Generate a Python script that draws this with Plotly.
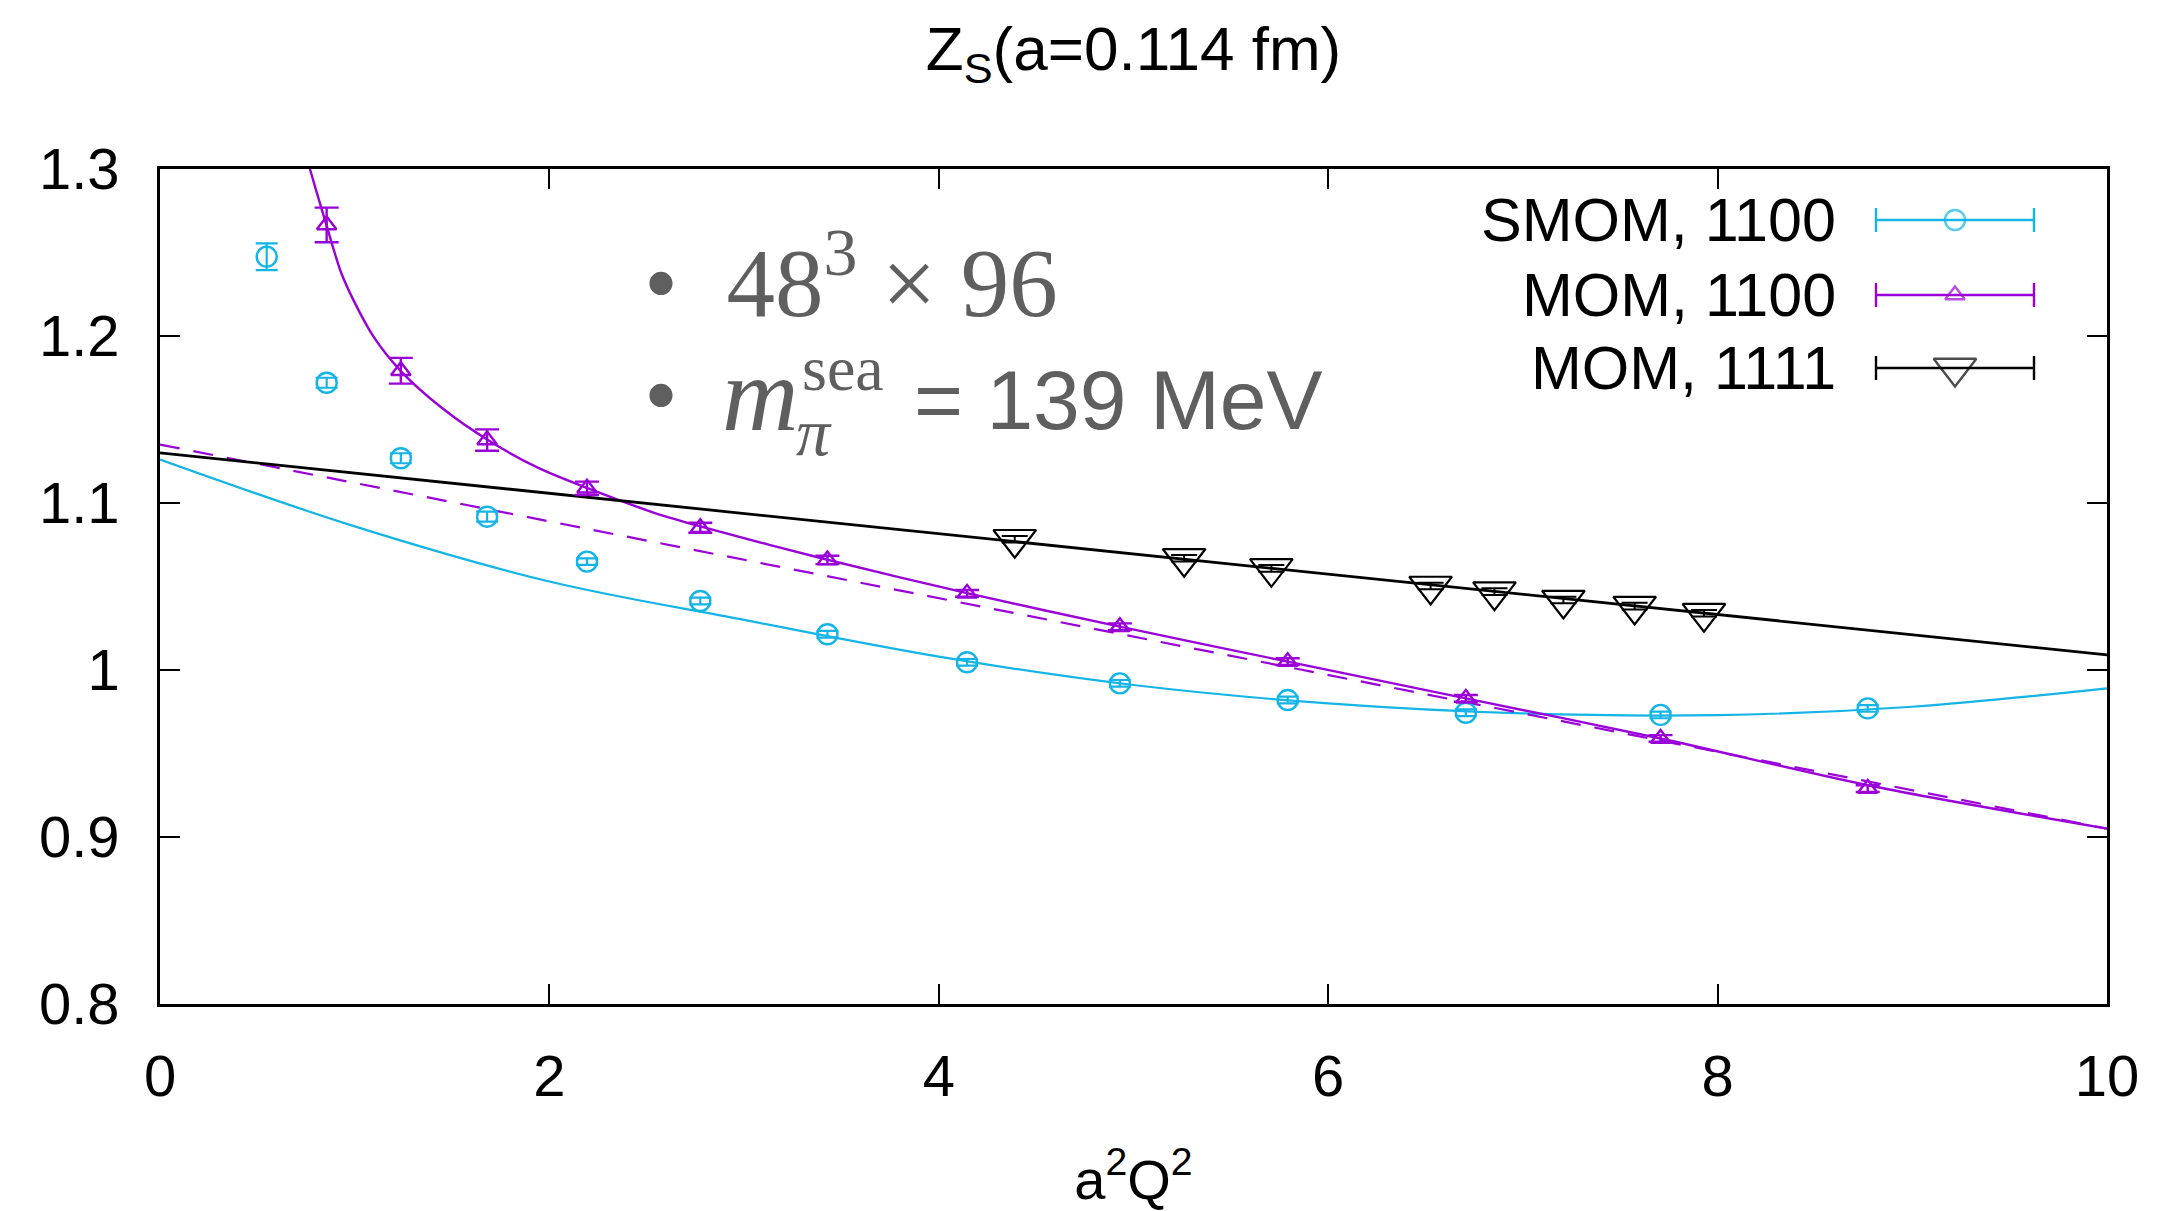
import plotly.graph_objects as go

# ---------------- data ----------------
x_smom = [0.548, 0.856, 1.237, 1.680, 2.193, 2.775, 3.428, 4.145, 4.930, 5.792, 6.707, 7.707, 8.771]
z_smom = [1.2475, 1.172, 1.1268, 1.0918, 1.0649, 1.0413, 1.0214, 1.0046, 0.992, 0.982, 0.9744, 0.9731, 0.977]
e_smom = [0.008, 0.003, 0.003, 0.003, 0.002, 0.002, 0.002, 0.002, 0.002, 0.002, 0.002, 0.002, 0.002]

x_mom = [0.856, 1.237, 1.680, 2.193, 2.775, 3.428, 4.145, 4.930, 5.792, 6.707, 7.707, 8.771]
z_mom = [1.2665, 1.1792, 1.1377, 1.1088, 1.0852, 1.0659, 1.0459, 1.0259, 1.005, 0.983, 0.959, 0.929]
e_mom = [0.0104, 0.0077, 0.0064, 0.004, 0.003, 0.0025, 0.002, 0.002, 0.002, 0.002, 0.002, 0.002]

x_mom11 = [4.39, 5.26, 5.708, 6.526, 6.854, 7.208, 7.574, 7.93]
z_mom11 = [1.0783, 1.0669, 1.0609, 1.0503, 1.0469, 1.0419, 1.0383, 1.034]
e_mom11 = [0.002, 0.002, 0.002, 0.002, 0.002, 0.002, 0.002, 0.002]

# fit curves
fit_smom_x = [0, 1, 2, 3, 4, 5, 6, 7, 8, 9, 10]
fit_smom_y = [1.126, 1.086, 1.053, 1.030, 1.008, 0.991, 0.980, 0.974, 0.973, 0.978, 0.989]

fit_mom_x = [0.77, 0.80, 0.856, 0.93, 1.0, 1.1, 1.237, 1.447, 1.68, 1.943, 2.193, 2.542,
             2.775, 3.428, 4.145, 4.93, 5.792, 6.707, 7.707, 8.771, 10]
fit_mom_y = [1.300, 1.288, 1.266, 1.238, 1.220, 1.199, 1.179, 1.157, 1.138, 1.121, 1.109, 1.094,
             1.086, 1.066, 1.046, 1.026, 1.005, 0.983, 0.959, 0.931, 0.905]

fit_mom_lin_x = [0, 5, 10]
fit_mom_lin_y = [1.135, 1.020, 0.905]

fit_mom11_x = [0, 10]
fit_mom11_y = [1.130, 1.009]

series_names = ["SMOM, 1100", "MOM, 1100", "MOM, 1111"]
x_ticks = [0, 2, 4, 6, 8, 10]
y_ticks = [0.8, 0.9, 1.0, 1.1, 1.2, 1.3]
y_ticktext = ["0.8", "0.9", "1", "1.1", "1.2", "1.3"]

# ---------------- styling ----------------
W, H = 2157, 1211
L, R, T, B = 160, 2107, 169, 1004
CYAN = "#14B4E6"
PURPLE = "#9A00D8"
BLACK = "#000000"
GREY = "#5f5f5f"
SANS = "Liberation Sans, Arial, Helvetica, sans-serif"
SERIF = "Liberation Serif, Times New Roman, serif"


def px(xp):
    return (xp - L) / (R - L)


def py(yp):
    return (B - yp) / (B - T)


fig = go.Figure()

# fit curves
fig.add_trace(go.Scatter(x=fit_smom_x, y=fit_smom_y, mode="lines",
                         line=dict(color=CYAN, width=2.2, shape="spline", smoothing=1.0)))
fig.add_trace(go.Scatter(x=fit_mom_lin_x, y=fit_mom_lin_y, mode="lines",
                         line=dict(color=PURPLE, width=2.2, dash="20px,14px")))
fig.add_trace(go.Scatter(x=fit_mom_x, y=fit_mom_y, mode="lines",
                         line=dict(color=PURPLE, width=2.4, shape="spline", smoothing=0.8)))
fig.add_trace(go.Scatter(x=fit_mom11_x, y=fit_mom11_y, mode="lines",
                         line=dict(color=BLACK, width=2.8)))

# data points
fig.add_trace(go.Scatter(x=x_smom, y=z_smom, mode="markers",
                         error_y=dict(type="data", array=e_smom, color=CYAN, thickness=2.2, width=11),
                         marker=dict(symbol="circle-open", size=20, color=CYAN, line=dict(width=2.4))))
fig.add_trace(go.Scatter(x=x_mom, y=z_mom, mode="markers",
                         error_y=dict(type="data", array=e_mom, color=PURPLE, thickness=2.4, width=12),
                         marker=dict(symbol="triangle-up-open", size=17, color=PURPLE, line=dict(width=2.4))))
fig.add_trace(go.Scatter(x=x_mom11, y=z_mom11, mode="markers",
                         error_y=dict(type="data", array=e_mom11, color=BLACK, thickness=2, width=13),
                         marker=dict(symbol="triangle-down-open", size=37, color=BLACK, line=dict(width=2.2))))

# ---------------- custom legend (text left, sample right) ----------------
leg_rows = [220, 295, 368]
leg_colors = [CYAN, PURPLE, BLACK]
leg_symbols = ["circle-open", "triangle-up-open", "triangle-down-open"]
leg_sizes = [20, 17, 37]
shapes = []
annotations = []
for name, yrow, col in zip(series_names, leg_rows, leg_colors):
    annotations.append(dict(text=name, x=px(1838), y=py(yrow), xref="paper", yref="paper",
                            xanchor="right", yanchor="middle", showarrow=False,
                            font=dict(family=SANS, size=61, color="black")))
    shapes.append(dict(type="line", xref="paper", yref="paper", x0=px(1876), x1=px(2034),
                       y0=py(yrow), y1=py(yrow), line=dict(color=col, width=2.4)))
    for xc in (1876, 2034):
        shapes.append(dict(type="line", xref="paper", yref="paper", x0=px(xc), x1=px(xc),
                           y0=py(yrow - 12), y1=py(yrow + 12), line=dict(color=col, width=2.4)))

fig.add_trace(go.Scatter(x=[px(1955)] * 3, y=[py(r) for r in leg_rows], mode="markers",
                         xaxis="x2", yaxis="y2",
                         marker=dict(symbol=leg_symbols, size=leg_sizes, color=leg_colors,
                                     line=dict(width=2.4, color=leg_colors))))

# ---------------- inset text ----------------
annotations.append(dict(text="•  48<sup>3</sup> × 96", x=px(642), y=py(275), xref="paper", yref="paper",
                        xanchor="left", yanchor="middle", showarrow=False,
                        font=dict(family=SERIF, size=97, color=GREY)))
annotations.append(dict(text="•", x=px(642), y=py(395), xref="paper", yref="paper",
                        xanchor="left", yanchor="middle", showarrow=False,
                        font=dict(family=SERIF, size=97, color=GREY)))
annotations.append(dict(text="<i>m</i>", x=px(720), y=py(394), xref="paper", yref="paper",
                        xanchor="left", yanchor="middle", showarrow=False,
                        font=dict(family=SERIF, size=106, color=GREY)))
annotations.append(dict(text="<i>π</i>", x=px(794), y=py(432), xref="paper", yref="paper",
                        xanchor="left", yanchor="middle", showarrow=False,
                        font=dict(family=SERIF, size=68, color=GREY)))
annotations.append(dict(text="sea", x=px(800), y=py(368), xref="paper", yref="paper",
                        xanchor="left", yanchor="middle", showarrow=False,
                        font=dict(family=SERIF, size=64, color=GREY)))
annotations.append(dict(text="= 139 MeV", x=px(912), y=py(400), xref="paper", yref="paper",
                        xanchor="left", yanchor="middle", showarrow=False,
                        font=dict(family=SANS, size=84, color=GREY)))

axis_common = dict(showline=True, linecolor="black", linewidth=2.5, mirror="allticks",
                   ticks="inside", ticklen=20, tickwidth=2, tickcolor="black",
                   showgrid=False, zeroline=False, automargin=False,
                   tickfont=dict(family=SANS, size=58, color="black"))

fig.update_layout(
    width=W, height=H,
    margin=dict(l=L, r=W - R, t=T, b=H - B, autoexpand=False),
    paper_bgcolor="white", plot_bgcolor="white",
    showlegend=False,
    title=dict(text="Z<sub>S</sub>(a=0.114 fm)", x=0.5, xref="paper", xanchor="center",
               y=1 - 48 / H, yref="container", yanchor="middle", automargin=False,
               font=dict(family=SANS, size=62, color="black")),
    xaxis=dict(range=[0, 10], tickvals=x_ticks, ticklabelstandoff=20,
               title=dict(text="a<sup>2</sup>Q<sup>2</sup>", standoff=56,
                          font=dict(family=SANS, size=56, color="black")),
               **axis_common),
    yaxis=dict(range=[0.8, 1.3], tickvals=y_ticks, ticktext=y_ticktext, ticklabelstandoff=26,
               **axis_common),
    xaxis2=dict(range=[0, 1], overlaying="x", visible=False),
    yaxis2=dict(range=[0, 1], overlaying="y", visible=False),
    shapes=shapes,
    annotations=annotations,
)

fig.write_html("out.html")
